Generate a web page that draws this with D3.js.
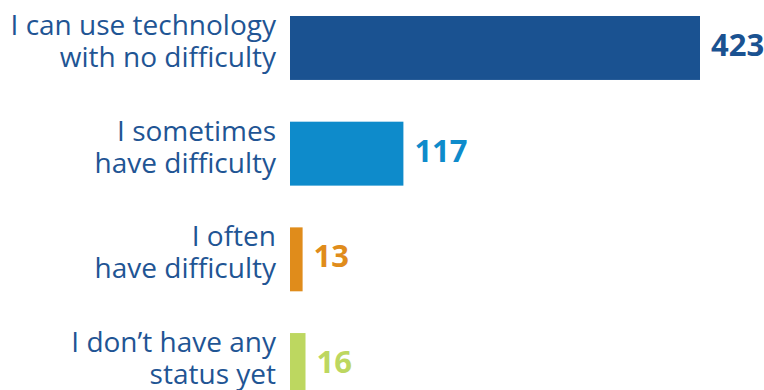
<!DOCTYPE html>
<html>
<head>
<meta charset="utf-8">
<script src="https://cdn.jsdelivr.net/npm/d3@7"></script>
<style>
  html, body { margin: 0; padding: 0; background: #ffffff; }
  svg { display: block; }
</style>
</head>
<body>
<div id="chart"></div>
<script>
// Survey answers about difficulty using technology
const categories = [
  "I can use technology with no difficulty",
  "I sometimes have difficulty",
  "I often have difficulty",
  "I don’t have any status yet"
];
const labelLines = [
  ["I can use technology", "with no difficulty"],
  ["I sometimes", "have difficulty"],
  ["I often", "have difficulty"],
  ["I don’t have any", "status yet"]
];
const values = [423, 117, 13, 16];
const colors = ["#1a5291", "#0e8bcb", "#e08c1b", "#bdd760"];

const width = 764, height = 390;

const svg = d3.select("#chart").append("svg")
  .attr("width", width)
  .attr("height", height);

const x = d3.scaleLinear().domain([0, 423]).range([290, 700]);
const y = d3.scaleBand().domain(categories).range([16, 397])
  .paddingInner(0.395).paddingOuter(0);

const rows = svg.selectAll("g.row")
  .data(categories)
  .join("g")
  .attr("class", "row");

rows.append("rect")
  .attr("x", x(0))
  .attr("y", d => y(d))
  .attr("width", (d, i) => x(values[i]) - x(0))
  .attr("height", y.bandwidth())
  .attr("fill", (d, i) => colors[i]);

// Category labels, two lines, right-aligned against the bars
const label = rows.append("text")
  .attr("text-anchor", "end")
  .attr("font-family", "'Open Sans', sans-serif")
  .attr("font-size", 28)
  .attr("fill", "#1f5594");
label.selectAll("tspan")
  .data((d, i) => labelLines[i].map((t, k) => ({ t, k, c: d })))
  .join("tspan")
  .attr("x", 276)
  .attr("y", o => y(o.c) + y.bandwidth() / 2 + (o.k === 0 ? -13 : 19))
  .text(o => o.t);

// Value labels after each bar
rows.append("text")
  .attr("x", (d, i) => x(values[i]) + 11)
  .attr("y", d => y(d) + y.bandwidth() / 2 + 8)
  .attr("font-family", "'Open Sans', sans-serif")
  .attr("font-weight", 700)
  .attr("font-size", 31)
  .attr("fill", (d, i) => colors[i])
  .text((d, i) => values[i]);
</script>
</body>
</html>
